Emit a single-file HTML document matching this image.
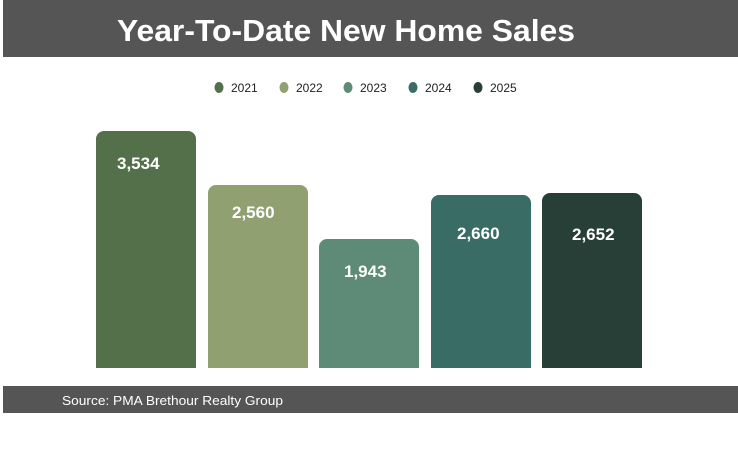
<!DOCTYPE html>
<html><head><style>body{margin:0;background:#fff}svg{display:block}</style></head><body>
<svg width="738" height="450" xmlns="http://www.w3.org/2000/svg" font-family="Liberation Sans, sans-serif">
<rect x="3" y="0" width="735" height="57" fill="#555555"/>
<text x="117" y="41" font-size="31" font-weight="bold" fill="#fff" textLength="458" lengthAdjust="spacingAndGlyphs">Year-To-Date New Home Sales</text>
<g font-size="12" fill="#222">
<ellipse cx="219" cy="87.5" rx="4.5" ry="5.5" fill="#53704a"/><text x="231" y="92">2021</text>
<ellipse cx="284" cy="87.5" rx="4.5" ry="5.5" fill="#90a070"/><text x="296" y="92">2022</text>
<ellipse cx="348" cy="87.5" rx="4.5" ry="5.5" fill="#5d8b78"/><text x="360" y="92">2023</text>
<ellipse cx="413" cy="87.5" rx="4.5" ry="5.5" fill="#386c64"/><text x="425" y="92">2024</text>
<ellipse cx="478" cy="87.5" rx="4.5" ry="5.5" fill="#283f37"/><text x="490" y="92">2025</text>
</g>
<path d="M96 368V139a8 8 0 0 1 8-8h84a8 8 0 0 1 8 8V368Z" fill="#53704a"/>
<path d="M208 368V193a8 8 0 0 1 8-8h84a8 8 0 0 1 8 8V368Z" fill="#90a070"/>
<path d="M319 368V247a8 8 0 0 1 8-8h84a8 8 0 0 1 8 8V368Z" fill="#5d8b78"/>
<path d="M431 368V203a8 8 0 0 1 8-8h84a8 8 0 0 1 8 8V368Z" fill="#386c64"/>
<path d="M542 368V201a8 8 0 0 1 8-8h84a8 8 0 0 1 8 8V368Z" fill="#283f37"/>
<g font-size="17" font-weight="bold" fill="#fff">
<text x="117" y="169">3,534</text>
<text x="232" y="218">2,560</text>
<text x="344" y="277">1,943</text>
<text x="457" y="239">2,660</text>
<text x="572" y="240">2,652</text>
</g>
<rect x="3" y="386" width="735" height="27" fill="#555555"/>
<text x="62" y="405" font-size="13" fill="#fff" textLength="221" lengthAdjust="spacingAndGlyphs">Source: PMA Brethour Realty Group</text>
</svg>
</body></html>
